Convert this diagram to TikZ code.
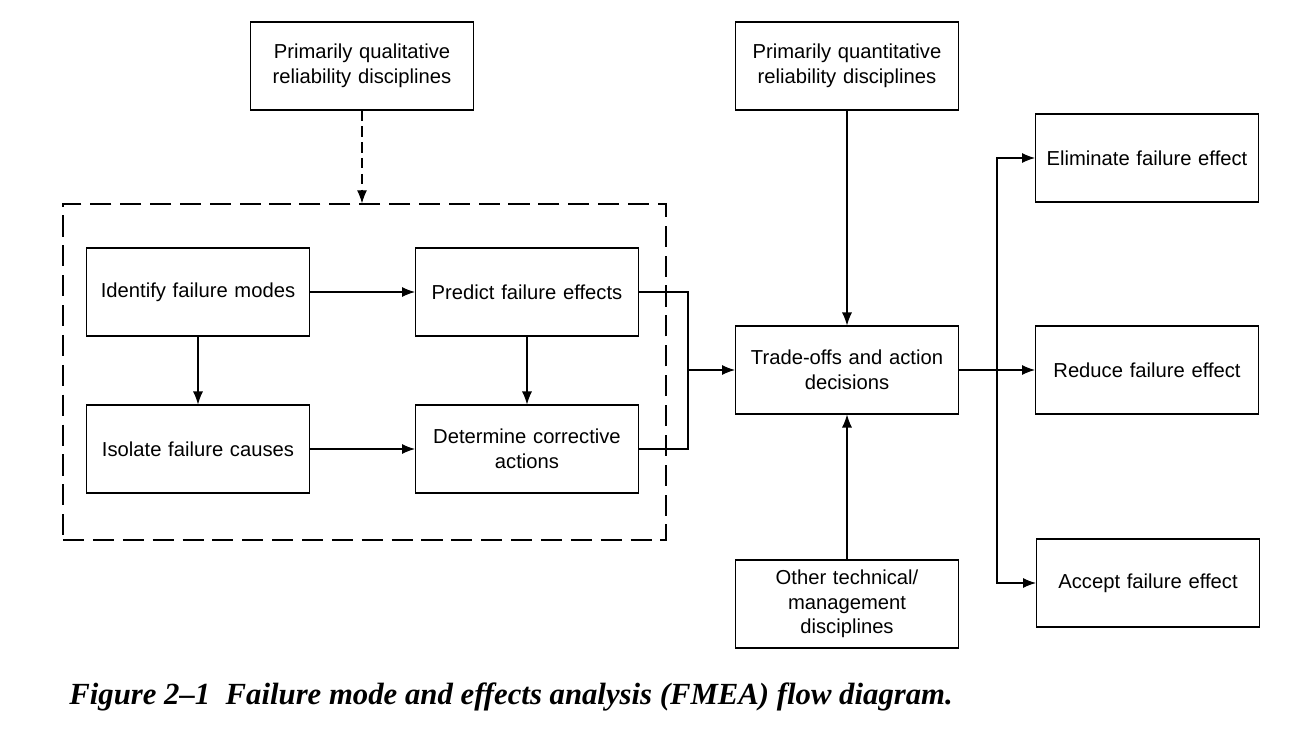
\documentclass[tikz,border=0pt]{standalone}
\usepackage{fontspec}
\setmainfont{Liberation Sans}
\newfontfamily\capfont[Ligatures=TeX]{Liberation Serif}
\usetikzlibrary{calc,arrows.meta}

\begin{document}
\begin{tikzpicture}[x=0.02cm,y=-0.02cm,>={Latex[length=0.26cm,width=0.2cm]},line width=0.6pt,
  box/.style={draw,line width=0.6pt,minimum width=4.46cm,minimum height=1.76cm,
    text width=4.1cm,align=center,font=\fontsize{11.5}{14}\selectfont}]

 \useasboundingbox (0,0) rectangle (1315,737);

 \node[box] (qual) at (362,66) {Primarily qualitative\\ reliability disciplines};

 \node[box] (quant) at (847,66) {Primarily quantitative\\ reliability disciplines};

 \node[draw,dashed,dash pattern=on 12pt off 5pt,line width=0.8pt,minimum width=12.06cm,minimum height=6.72cm] (frame) at (364.5,372) {};

 \node[box] (ident) at (198,292) {Identify failure modes};

 \node[box] (pred) at (527,292) {Predict failure effects};

 \node[box] (isol) at (198,449) {Isolate failure causes};

 \node[box] (det) at (527,449) {Determine corrective\\ actions};

 \node[box] (trade) at (847,370) {Trade-offs and action\\ decisions};

 \node[box] (other) at (847,604) {Other technical/\\ management\\ disciplines};

 \node[box] (elim) at (1147,158) {Eliminate failure effect};

 \node[box] (red) at (1147,370) {Reduce failure effect};

 \node[box] (acc) at (1148,583) {Accept failure effect};

 \node[anchor=west,font=\capfont\bfseries\itshape\fontsize{17.5}{21}\selectfont] (cap) at (63,697)
   {Figure 2--1\ \ Failure mode and effects analysis (FMEA) flow diagram.};

 \coordinate (j) at (688,370);
 \coordinate (r) at (997,370);

 \draw[dashed,dash pattern=on 6pt off 3pt][->] (qual) -- (frame.north -| qual);
 \draw[->] (ident) -- (pred);
 \draw[->] (ident) -- (isol);
 \draw[->] (pred) -- (det);
 \draw[->] (isol) -- (det);
 \draw (pred.east) -| (j);
 \draw (det.east) -| (j);
 \draw[->] (j) -- (trade);
 \draw[->] (quant) -- (trade);
 \draw[->] (other) -- (trade);
 \draw[->] (trade) -- (red);
 \draw[->] (r) |- (elim.west);
 \draw[->] (r) |- (acc.west);

\end{tikzpicture}
\end{document}
